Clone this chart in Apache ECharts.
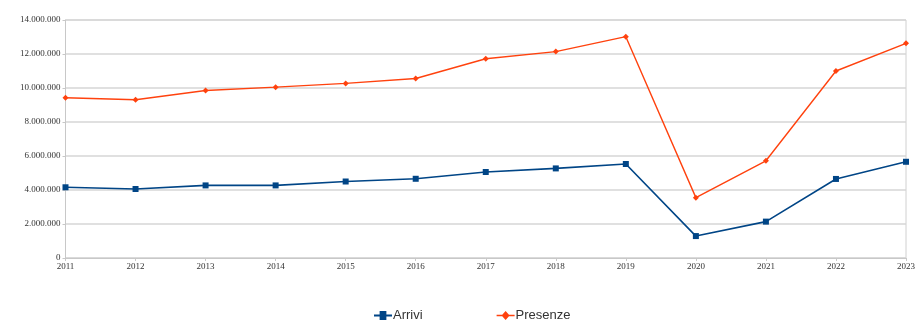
<!DOCTYPE html>
<html><head><meta charset="utf-8">
<script src="https://cdn.jsdelivr.net/npm/echarts@6/dist/echarts.min.js"></script>
<style>html,body{margin:0;padding:0;background:#fff}#c{width:918px;height:320px}</style>
</head><body><div id="c"></div>
<script>
const years = ['2011','2012','2013','2014','2015','2016','2017','2018','2019','2020','2021','2022','2023'];
const arrivi = [4160000,4060000,4270000,4270000,4500000,4660000,5060000,5270000,5530000,1290000,2140000,4650000,5660000];
const presenze = [9430000,9310000,9850000,10050000,10270000,10560000,11720000,12140000,13020000,3550000,5720000,11000000,12630000];
const yTicks = {min:0, max:14000000, interval:2000000};

function fmt(v){return String(v).replace(/\B(?=(\d{3})+(?!\d))/g,'.');}
const chart = echarts.init(document.getElementById('c'));
chart.setOption({
  animation:false,
  textStyle:{fontFamily:'Liberation Sans'},
  grid:{left:65.5,right:8,top:20,bottom:62,show:true,borderColor:'#d0d0d0',borderWidth:1},
  legend:{top:304,left:369,itemGap:74,itemWidth:18,itemHeight:9,
    textStyle:{fontSize:13,color:'#333',fontFamily:'Liberation Sans',padding:[0,0,0,-4]},
    data:[{name:'Arrivi',icon:'path://M0,3.2H5V0H11V3.2H16V4.8H11V8H5V4.8H0Z'},
          {name:'Presenze',icon:'path://M0,3.3H5L8,0L11,3.3H16V4.7H11L8,8L5,4.7H0Z'}]},
  xAxis:{type:'category',data:years,boundaryGap:false,
    axisLine:{lineStyle:{color:'#c8c8c8'}},axisTick:{show:true,lineStyle:{color:'#c8c8c8'},length:3},
    axisLabel:{color:'#333',fontSize:9,margin:4,fontFamily:'Liberation Serif'},splitLine:{show:false}},
  yAxis:{type:'value',min:yTicks.min,max:yTicks.max,interval:yTicks.interval,
    axisLine:{show:true,lineStyle:{color:'#c8c8c8'}},axisTick:{show:true,length:3,lineStyle:{color:'#c8c8c8'}},
    axisLabel:{color:'#333',fontSize:9,margin:5,formatter:fmt,fontFamily:'Liberation Serif'},
    splitLine:{lineStyle:{color:'#d6d6d6',width:1.5}}},
  series:[
    {name:'Arrivi',type:'line',data:arrivi,symbol:'rect',symbolSize:6,
     itemStyle:{color:'#004586'},lineStyle:{color:'#004586',width:1.6}},
    {name:'Presenze',type:'line',data:presenze,symbol:'diamond',symbolSize:6,
     itemStyle:{color:'#ff420e'},lineStyle:{color:'#ff420e',width:1.4}}
  ]
});
</script></body></html>
